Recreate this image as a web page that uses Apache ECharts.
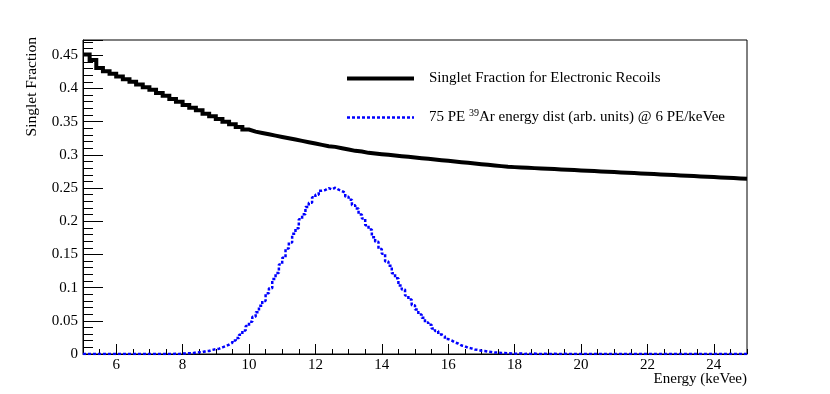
<!DOCTYPE html>
<html>
<head>
<meta charset="utf-8">
<script src="https://cdn.jsdelivr.net/npm/echarts@6.0.0/dist/echarts.min.js"></script>
<style>
  html, body { margin: 0; padding: 0; background: #fff; }
  #chart { width: 830px; height: 394px; }
</style>
</head>
<body>
<div id="chart"></div>
<script>
// x range and binning (keVee)
const xMin = 5;
const xMax = 25;
const sfBinWidth = 0.2;
const arBinWidth = 0.1;

// tick label positions
const xMajorTicks = [6, 8, 10, 12, 14, 16, 18, 20, 22, 24];

// singlet fraction for electronic recoils, one value per 0.2 keVee bin from 5 keVee
const singletFraction = [
  0.451, 0.443, 0.431, 0.426, 0.422, 0.418, 0.414, 0.410, 0.406, 0.402,
  0.398, 0.393, 0.389, 0.384, 0.380, 0.375, 0.371, 0.367, 0.362, 0.358,
  0.354, 0.350, 0.346, 0.342, 0.338, 0.335, 0.333, 0.331, 0.329, 0.327,
  0.325, 0.323, 0.321, 0.319, 0.317, 0.315, 0.313, 0.312, 0.310, 0.308,
  0.306, 0.305, 0.303, 0.302, 0.301, 0.300, 0.299, 0.298, 0.297, 0.296,
  0.295, 0.294, 0.293, 0.292, 0.291, 0.290, 0.289, 0.288, 0.287, 0.286,
  0.285, 0.284, 0.283, 0.282, 0.2815, 0.281, 0.2805, 0.280, 0.2795, 0.279,
  0.2785, 0.278, 0.2775, 0.277, 0.2765, 0.276, 0.2755, 0.275, 0.2745, 0.274,
  0.2735, 0.273, 0.2725, 0.272, 0.2715, 0.271, 0.2705, 0.270, 0.2695, 0.269,
  0.2685, 0.268, 0.2675, 0.267, 0.2665, 0.266, 0.2655, 0.265, 0.2645, 0.264
];

// 39Ar energy distribution (arb. units), one value per 0.1 keVee bin from 5 keVee
const arEnergyDist = [
  0, 0, 0, 0, 0, 0, 0, 0, 0, 0,
  0, 0, 0, 0, 0, 0, 0, 0, 0, 0,
  0, 0, 0, 0, 0, 0, 0, 0.0005, 0, 0.0008,
  0.0009, 0.0012, 0.0010, 0.0022, 0.0025, 0.0028, 0.0042, 0.0046, 0.0062, 0.0072,
  0.0080, 0.0100, 0.0118, 0.0140, 0.0170, 0.0205, 0.0240, 0.0290, 0.0355, 0.0420,
  0.0485, 0.0560, 0.0630, 0.0725, 0.0800, 0.0915, 0.0990, 0.1130, 0.1220, 0.1350,
  0.1450, 0.1590, 0.1680, 0.1810, 0.1895, 0.2030, 0.2105, 0.2215, 0.2280, 0.2360,
  0.2400, 0.2460, 0.2470, 0.2500, 0.2480, 0.2505, 0.2475, 0.2455, 0.2430, 0.2370,
  0.2325, 0.2240, 0.2190, 0.2100, 0.2040, 0.1940, 0.1875, 0.1760, 0.1690, 0.1580,
  0.1510, 0.1395, 0.1330, 0.1215, 0.1140, 0.1030, 0.0970, 0.0880, 0.0820, 0.0735,
  0.0670, 0.0595, 0.0545, 0.0475, 0.0440, 0.0385, 0.0345, 0.0295, 0.0265, 0.0225,
  0.0205, 0.0175, 0.0158, 0.0128, 0.0118, 0.0095, 0.0085, 0.0068, 0.0062, 0.0048,
  0.0045, 0.0035, 0.0030, 0.0022, 0.0021, 0.0015, 0.0014, 0.0010, 0.0009, 0.0006,
  0.0005, 0.0008, 0, 0.0004, 0, 0.0006, 0, 0, 0.0004, 0,
  0, 0.0004, 0, 0, 0.0005, 0, 0, 0, 0, 0,
  0, 0, 0, 0, 0, 0, 0, 0, 0, 0,
  0, 0, 0, 0, 0, 0, 0, 0, 0, 0,
  0, 0, 0, 0, 0, 0, 0, 0, 0, 0,
  0, 0, 0, 0, 0, 0, 0, 0, 0, 0,
  0, 0, 0, 0, 0, 0, 0, 0, 0, 0
];

const sfName = 'Singlet Fraction for Electronic Recoils';
const arName = '75 PE 39Ar energy dist (arb. units) @ 6 PE/keVee';

const font = 'Liberation Serif';

// histogram -> step points at bin low edges, plus closing point at xMax
const toSteps = (vals, width) => {
  const pts = vals.map((v, i) => [xMin + i * width, v]);
  pts.push([xMax, vals[vals.length - 1]]);
  return pts;
};

const chart = echarts.init(document.getElementById('chart'), null, {renderer: 'canvas'});

const option = {
  animation: false,
  textStyle: {fontFamily: font, color: '#000'},
  grid: {
    left: 83, right: 83, top: 40, bottom: 40,
    show: true, borderColor: '#000', borderWidth: 1
  },
  legend: {
    orient: 'vertical',
    left: 340,
    top: 66,
    itemWidth: 67,
    itemHeight: 14,
    itemGap: 22,
    data: [
      {name: sfName, lineStyle: {width: 4, color: '#000'}},
      {name: arName, lineStyle: {width: 2.5, color: '#0000ff', type: [3, 2]}}
    ],
    itemStyle: {opacity: 0}, // line only, no marker
    formatter: (name) => name === arName
      ? '75 PE {sup|39}Ar energy dist (arb. units) @ 6 PE/keVee'
      : name,
    textStyle: {
      fontFamily: font,
      fontSize: 15,
      color: '#000',
      padding: [0, 0, 0, 10],
      rich: {
        sup: {fontFamily: font, fontSize: 10, padding: [0, 0, 9, 0]}
      }
    }
  },
  xAxis: [
    {
      type: 'value',
      min: xMin,
      max: xMax,
      interval: 1,
      name: 'Energy (keVee)',
      nameLocation: 'end',
      nameGap: 0,
      nameMoveOverlap: false,
      nameTextStyle: {
        fontFamily: font, fontSize: 15, color: '#000',
        align: 'right', verticalAlign: 'top', padding: [18, 0, 0, 0]
      },
      axisLine: {show: true, lineStyle: {color: '#000', width: 1}},
      axisTick: {show: true, inside: true, length: 10, customValues: xMajorTicks, lineStyle: {color: '#000'}},
      axisLabel: {customValues: xMajorTicks, fontFamily: font, fontSize: 15, color: '#000', margin: 4},
      splitLine: {show: false}
    },
    {
      // minor ticks every 0.5 keVee
      type: 'value',
      min: xMin,
      max: xMax,
      interval: 0.5,
      position: 'bottom',
      axisLine: {show: false},
      axisTick: {show: true, inside: true, length: 5, lineStyle: {color: '#000'}},
      axisLabel: {show: false},
      splitLine: {show: false}
    }
  ],
  yAxis: {
    type: 'value',
    min: 0,
    max: 0.473,
    interval: 0.05,
    name: 'Singlet Fraction',
    nameLocation: 'end',
    nameRotate: 90,
    nameGap: 3,
    nameMoveOverlap: false,
    nameTextStyle: {
      fontFamily: font, fontSize: 15.5, color: '#000',
      align: 'right', verticalAlign: 'bottom', padding: [0, 0, 43, 0]
    },
    axisLine: {show: true, lineStyle: {color: '#000', width: 1}},
    axisTick: {show: true, inside: true, length: 20, lineStyle: {color: '#000'}},
    minorTick: {show: true, splitNumber: 5, length: 10, lineStyle: {color: '#000'}},
    axisLabel: {fontFamily: font, fontSize: 15, color: '#000', margin: 5, showMaxLabel: false},
    splitLine: {show: false},
    minorSplitLine: {show: false}
  },
  series: [
    {
      name: sfName,
      type: 'line',
      xAxisIndex: 0,
      step: 'end',
      symbol: 'none',
      data: toSteps(singletFraction, sfBinWidth),
      lineStyle: {color: '#000', width: 4, cap: 'butt', join: 'miter'},
      itemStyle: {color: '#000'}
    },
    {
      name: arName,
      type: 'line',
      xAxisIndex: 0,
      step: 'end',
      symbol: 'none',
      data: toSteps(arEnergyDist, arBinWidth),
      lineStyle: {color: '#0000ff', width: 2.5, type: [3, 2], cap: 'butt'},
      itemStyle: {color: '#0000ff'}
    }
  ]
};

chart.setOption(option);
</script>
</body>
</html>
